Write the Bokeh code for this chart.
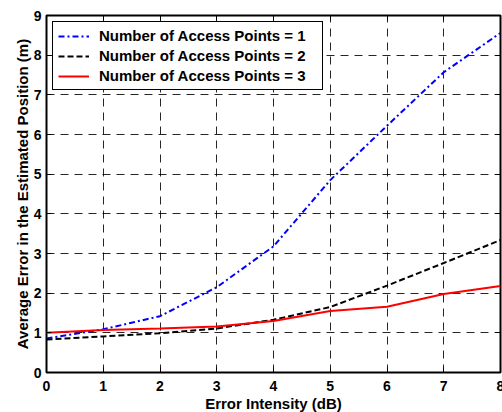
from bokeh.plotting import figure
from bokeh.models import LinearAxis, SingleIntervalTicker, Range1d, Legend, LegendItem
from bokeh.embed import file_html
from bokeh.resources import INLINE

error_db = [0, 1, 2, 3, 4, 5, 6, 7, 8]
ap1 = [0.86, 1.09, 1.42, 2.15, 3.18, 4.85, 6.22, 7.57, 8.56]
ap2 = [0.83, 0.91, 0.99, 1.11, 1.33, 1.65, 2.19, 2.76, 3.34]
ap3 = [1.00, 1.07, 1.11, 1.16, 1.30, 1.55, 1.66, 1.98, 2.18]
labels = ["Number of Access Points = 1", "Number of Access Points = 2", "Number of Access Points = 3"]

FONT = "Liberation Sans"

p = figure(frame_width=454, frame_height=357, output_backend="svg", toolbar_location=None,
           x_range=Range1d(0, 8), y_range=Range1d(0, 9),
           min_border_left=46, min_border_top=15, min_border_right=2, min_border_bottom=40,
           x_axis_label="Error Intensity (dB)",
           y_axis_label="Average Error in the Estimated Position (m)")
p.background_fill_color = "white"
p.border_fill_color = "white"
p.outline_line_color = "black"
p.outline_line_width = 2
p.outline_line_alpha = 1

p.xaxis.ticker = SingleIntervalTicker(interval=1)
p.yaxis.ticker = SingleIntervalTicker(interval=1)

for ax in p.xaxis + p.yaxis:
    ax.axis_line_color = None
    ax.major_tick_in = 5
    ax.major_tick_out = 0
    ax.minor_tick_line_color = None
    ax.major_tick_line_color = "black"
    ax.major_label_text_font = FONT
    ax.major_label_text_font_style = "bold"
    ax.major_label_text_font_size = "14px"
    ax.major_label_text_color = "black"
    ax.axis_label_text_font = FONT
    ax.axis_label_text_font_style = "bold"
    ax.axis_label_text_font_size = "15px"
    ax.axis_label_text_color = "black"
p.xaxis.major_label_standoff = 4
p.xaxis.axis_label_standoff = 1
p.yaxis.major_label_standoff = 1
p.yaxis.axis_label_standoff = 0

for loc in ["above", "right"]:
    ax = LinearAxis(ticker=SingleIntervalTicker(interval=1))
    ax.axis_line_color = None
    ax.major_tick_in = 5
    ax.major_tick_out = 0
    ax.minor_tick_line_color = None
    ax.major_tick_line_color = "black"
    ax.major_label_text_font_size = "1px"
    ax.major_label_text_color = None
    ax.major_label_standoff = 0
    p.add_layout(ax, loc)

for g in [p.xgrid, p.ygrid]:
    g.ticker = SingleIntervalTicker(interval=1)
    g.grid_line_color = "black"
    g.grid_line_alpha = 0.85
    g.grid_line_width = 1
    g.grid_line_dash = "8 6"

r1 = p.line(error_db, ap1, line_color="#0000ff", line_width=2, line_dash="6 3 2 3")
r2 = p.line(error_db, ap2, line_color="black", line_width=2, line_dash="6 3")
r3 = p.line(error_db, ap3, line_color="#ff0000", line_width=2)

legend = Legend(items=[LegendItem(label=labels[0], renderers=[r1]),
                       LegendItem(label=labels[1], renderers=[r2]),
                       LegendItem(label=labels[2], renderers=[r3])],
                location="top_left")
legend.margin = 6
legend.padding = 5
legend.spacing = 3
legend.label_height = 16
legend.label_width = 218
legend.glyph_height = 16
legend.glyph_width = 31
legend.label_standoff = 10
legend.label_text_font = FONT
legend.label_text_font_style = "bold"
legend.label_text_font_size = "15px"
legend.label_text_color = "black"
legend.border_line_color = "black"
legend.border_line_width = 1
legend.border_line_alpha = 1
legend.background_fill_color = "white"
legend.background_fill_alpha = 1
p.add_layout(legend)

open("out.html", "w").write(file_html(p, INLINE))
